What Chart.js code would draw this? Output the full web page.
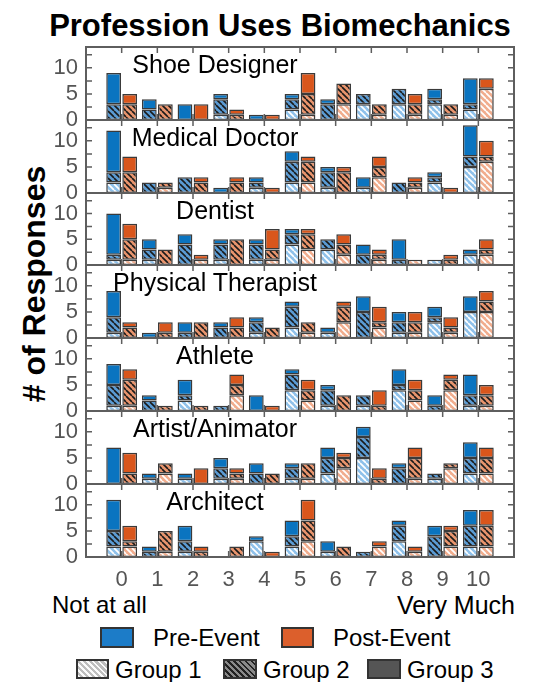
<!DOCTYPE html>
<html><head><meta charset="utf-8">
<script src="https://cdn.jsdelivr.net/npm/chart.js@4.4.1/dist/chart.umd.min.js"></script>
<style>
html,body{margin:0;padding:0;background:#fff;}
body{width:533px;height:682px;position:relative;overflow:hidden;font-family:"Liberation Sans",Arial,Helvetica,sans-serif;}
.abs{position:absolute;white-space:nowrap;line-height:1;}
.pw{position:absolute;left:0;width:533px;}
.pt{position:absolute;font-size:25px;color:#000;transform:translate(-50%,-50%);white-space:nowrap;line-height:1;}
.sw{position:absolute;box-sizing:border-box;border:2px solid #333;}
</style></head><body>
<div class="abs" style="left:280px;top:25px;transform:translate(-50%,-50%);font-size:31px;font-weight:bold;">Profession Uses Biomechanics</div>
<div class="abs" style="left:34px;top:284px;transform:translate(-50%,-50%) rotate(-90deg);font-size:32px;font-weight:bold;"># of Responses</div>
<div class="abs" style="left:52px;top:605px;transform:translateY(-50%);font-size:24px;">Not at all</div>
<div class="abs" style="right:18px;top:605px;transform:translateY(-50%);font-size:25px;">Very Much</div>
<div id="panels"></div>
<div class="sw" style="left:100px;top:627px;width:34px;height:21px;background:#1c7cc8;"></div>
<div class="abs" style="left:153px;top:638px;transform:translateY(-50%);font-size:24px;">Pre-Event</div>
<div class="sw" style="left:281px;top:627px;width:33px;height:21px;background:#dc5f2c;"></div>
<div class="abs" style="left:333px;top:638px;transform:translateY(-50%);font-size:24px;">Post-Event</div>
<div class="sw" style="left:76px;top:659px;width:33px;height:20px;background:repeating-linear-gradient(45deg,#fafafa 0 1.6px,#bdbdbd 1.6px 4.2px);"></div>
<div class="abs" style="left:115px;top:670px;transform:translateY(-50%);font-size:24px;">Group 1</div>
<div class="sw" style="left:223px;top:659px;width:34px;height:20px;background:repeating-linear-gradient(45deg,#222 0 1.6px,#8a8a8a 1.6px 4.2px);"></div>
<div class="abs" style="left:263px;top:670px;transform:translateY(-50%);font-size:24px;">Group 2</div>
<div class="sw" style="left:367px;top:659px;width:34px;height:20px;background:#555;"></div>
<div class="abs" style="left:407px;top:670px;transform:translateY(-50%);font-size:24px;">Group 3</div>
<script>
// ---------- data ----------
const categories = ['0','1','2','3','4','5','6','7','8','9','10'];
const professions = ['Shoe Designer','Medical Doctor','Dentist','Physical Therapist','Athlete','Artist/Animator','Architect'];
const yTickLabels = [0, 5, 10];

const shoePreG1  = [0,0,0,1,0,2,0,3,3,3,2];
const shoePreG2  = [3,2,0,3,0,2,3,2,3,1,1];
const shoePreG3  = [6,2,3,1,1,1,1,0,0,2,5];
const shoePostG1 = [0,0,0,0,0,1,3,1,1,1,6];
const shoePostG2 = [3,3,0,1,0,4,4,2,2,2,0];
const shoePostG3 = [2,0,3,1,1,4,0,0,2,0,2];

const doctorPreG1  = [2,0,0,0,1,2,1,1,0,2,5];
const doctorPreG2  = [2,2,3,0,1,4,3,0,2,1,2];
const doctorPreG3  = [8,0,0,1,1,2,1,2,0,1,6];
const doctorPostG1 = [0,1,0,0,0,2,0,3,1,0,6];
const doctorPostG2 = [4,1,2,2,0,4,4,2,1,0,1];
const doctorPostG3 = [3,0,1,1,1,1,1,2,1,1,3];

const dentistPreG1  = [1,1,0,1,1,4,3,0,0,1,2];
const dentistPreG2  = [1,2,4,3,3,2,2,2,1,0,0];
const dentistPreG3  = [8,2,2,1,1,1,0,2,4,0,1];
const dentistPostG1 = [1,0,1,0,1,3,2,1,1,0,2];
const dentistPostG2 = [4,3,0,5,2,3,2,1,0,1,1];
const dentistPostG3 = [3,0,1,0,4,1,2,1,0,1,2];

const therapistPreG1  = [1,0,0,0,1,2,1,0,1,3,5];
const therapistPreG2  = [3,0,1,2,2,4,0,5,2,1,0];
const therapistPreG3  = [5,1,2,1,1,1,1,3,2,2,3];
const therapistPostG1 = [0,0,0,0,0,1,3,2,1,1,5];
const therapistPostG2 = [2,1,3,2,2,2,3,1,2,1,2];
const therapistPostG3 = [1,2,0,2,0,0,1,3,2,2,2];

const athletePreG1  = [1,0,2,0,0,4,1,1,4,0,1];
const athletePreG2  = [4,2,1,1,0,3,3,2,1,1,2];
const athletePreG3  = [4,1,3,0,3,1,1,0,3,2,4];
const athletePostG1 = [1,0,0,3,0,2,0,0,2,4,1];
const athletePostG2 = [5,1,1,2,0,2,3,1,2,2,2];
const athletePostG3 = [2,0,0,2,1,2,0,3,2,1,2];

const artistPreG1  = [0,1,1,1,0,1,2,5,0,1,2];
const artistPreG2  = [0,0,0,2,2,2,3,4,3,1,3];
const artistPreG3  = [7,1,1,2,2,1,2,2,1,0,3];
const artistPostG1 = [0,2,0,1,0,1,3,0,1,3,2];
const artistPostG2 = [2,2,0,1,2,3,2,1,4,1,3];
const artistPostG3 = [4,0,3,1,0,0,1,2,2,0,2];

const architectPreG1  = [2,0,1,0,3,2,1,0,3,0,2];
const architectPreG2  = [3,1,2,0,0,2,0,1,3,4,4];
const architectPreG3  = [6,1,3,0,1,3,2,0,1,2,3];
const architectPostG1 = [2,1,0,0,0,3,0,2,1,2,2];
const architectPostG2 = [1,4,1,2,0,4,2,0,0,3,4];
const architectPostG3 = [3,0,1,0,1,4,0,1,1,1,3];

const panelSeries = [
  [shoePreG1, shoePreG2, shoePreG3, shoePostG1, shoePostG2, shoePostG3],
  [doctorPreG1, doctorPreG2, doctorPreG3, doctorPostG1, doctorPostG2, doctorPostG3],
  [dentistPreG1, dentistPreG2, dentistPreG3, dentistPostG1, dentistPostG2, dentistPostG3],
  [therapistPreG1, therapistPreG2, therapistPreG3, therapistPostG1, therapistPostG2, therapistPostG3],
  [athletePreG1, athletePreG2, athletePreG3, athletePostG1, athletePostG2, athletePostG3],
  [artistPreG1, artistPreG2, artistPreG3, artistPostG1, artistPostG2, artistPostG3],
  [architectPreG1, architectPreG2, architectPreG3, architectPostG1, architectPostG2, architectPostG3]
];

// ---------- styling ----------
const FONT = '"Liberation Sans", Arial, Helvetica, sans-serif';
const BLUE = '#0a74c0', ORANGE = '#d9561c';
function hatch(bg, stripe, s, w){
  const c = document.createElement('canvas'); c.width = s; c.height = s;
  const g = c.getContext('2d');
  g.fillStyle = bg; g.fillRect(0,0,s,s);
  g.strokeStyle = stripe; g.lineWidth = w; g.beginPath();
  for (const x0 of [-s, 0, s]) { g.moveTo(x0, 0); g.lineTo(x0 + s, s); }
  g.stroke();
  return g.createPattern(c, 'repeat');
}
const fills = [
  hatch('#8fc1ea', '#ffffff', 6, 1.7), hatch('#5b9bd3', '#1a1a1a', 6, 1.6), BLUE,
  hatch('#f1ad8e', '#ffffff', 6, 1.7), hatch('#e8946d', '#1a1a1a', 6, 1.6), ORANGE
];
const stacks = ['pre','pre','pre','post','post','post'];
const names = ['Pre-Event Group 1','Pre-Event Group 2','Pre-Event Group 3','Post-Event Group 1','Post-Event Group 2','Post-Event Group 3'];

const framePlugin = {
  id: 'frame',
  afterDatasetsDraw(chart){
    const {ctx, chartArea:a, scales:{x, y}} = chart;
    ctx.save();
    ctx.strokeStyle = '#5e5e5e'; ctx.lineWidth = 1.5;
    ctx.beginPath();
    for (let v = 2.5; v < 14; v += 2.5) {
      const py = y.getPixelForValue(v);
      ctx.moveTo(a.left, py); ctx.lineTo(a.left + 6, py);
      ctx.moveTo(a.right, py); ctx.lineTo(a.right - 6, py);
    }
    for (let i = 1; i <= categories.length; i++) {
      const px = x.getPixelForValue(i);
      ctx.moveTo(px, a.top); ctx.lineTo(px, a.top + 6);
      ctx.moveTo(px, a.bottom); ctx.lineTo(px, a.bottom - 6);
    }
    ctx.stroke();
    ctx.lineWidth = 2;
    ctx.strokeRect(a.left, a.top, a.right - a.left, a.bottom - a.top);
    ctx.restore();
  }
};

const labels = ['', ...categories, ''];
const pad = arr => [null, ...arr.map(v => v === 0 ? null : v), null];
const host = document.getElementById('panels');

professions.forEach((name, k) => {
  const top = Math.round(47 + 72.8 * k);
  const bottom = Math.round(47 + 72.8 * (k + 1));
  const isLast = k === professions.length - 1;
  const padTop = 26, padBot = isLast ? 0 : 26, xH = isLast ? 46 : 0;
  const h = padTop + (bottom - top) + padBot + xH;
  const wrap = document.createElement('div');
  wrap.className = 'pw';
  wrap.style.top = (top - padTop) + 'px';
  wrap.style.height = h + 'px';
  const cv = document.createElement('canvas');
  cv.width = 533; cv.height = h;
  cv.style.width = '533px'; cv.style.height = h + 'px';
  wrap.appendChild(cv);
  host.appendChild(wrap);

  const series = panelSeries[k];
  new Chart(cv, {
    type: 'bar',
    data: {
      labels,
      datasets: series.map((arr, i) => ({
        label: names[i], data: pad(arr), stack: stacks[i], backgroundColor: fills[i],
        borderColor: '#3a3a3a', borderWidth: 1.5, borderSkipped: false,
        categoryPercentage: 0.9, barPercentage: 0.92
      }))
    },
    options: {
      responsive: false, animation: false, devicePixelRatio: 1,
      layout: { padding: { left: 0, right: 19, top: padTop, bottom: padBot } },
      plugins: { legend: { display: false }, tooltip: { enabled: false } },
      scales: {
        x: {
          type: 'category', offset: false, display: isLast,
          grid: { display: false, drawTicks: false }, border: { display: false },
          ticks: { autoSkip: false, maxRotation: 0, padding: 10, color: '#555',
                   font: { size: 22, family: FONT } },
          afterFit(s){ s.height = xH; }
        },
        y: {
          min: 0, max: 14,
          grid: { display: false, drawTicks: false }, border: { display: false },
          ticks: { stepSize: 2.5, autoSkip: false, padding: 8, color: '#555',
                   font: { size: 22, family: FONT },
                   callback: v => yTickLabels.includes(v) ? String(v) : '' },
          afterFit(s){ s.width = 86; }
        }
      }
    },
    plugins: [framePlugin]
  });

  const t = document.createElement('div');
  t.className = 'pt';
  t.textContent = name;
  t.style.left = '215px';
  t.style.top = (top + 17) + 'px';
  document.body.appendChild(t);
});
</script>
</body></html>
